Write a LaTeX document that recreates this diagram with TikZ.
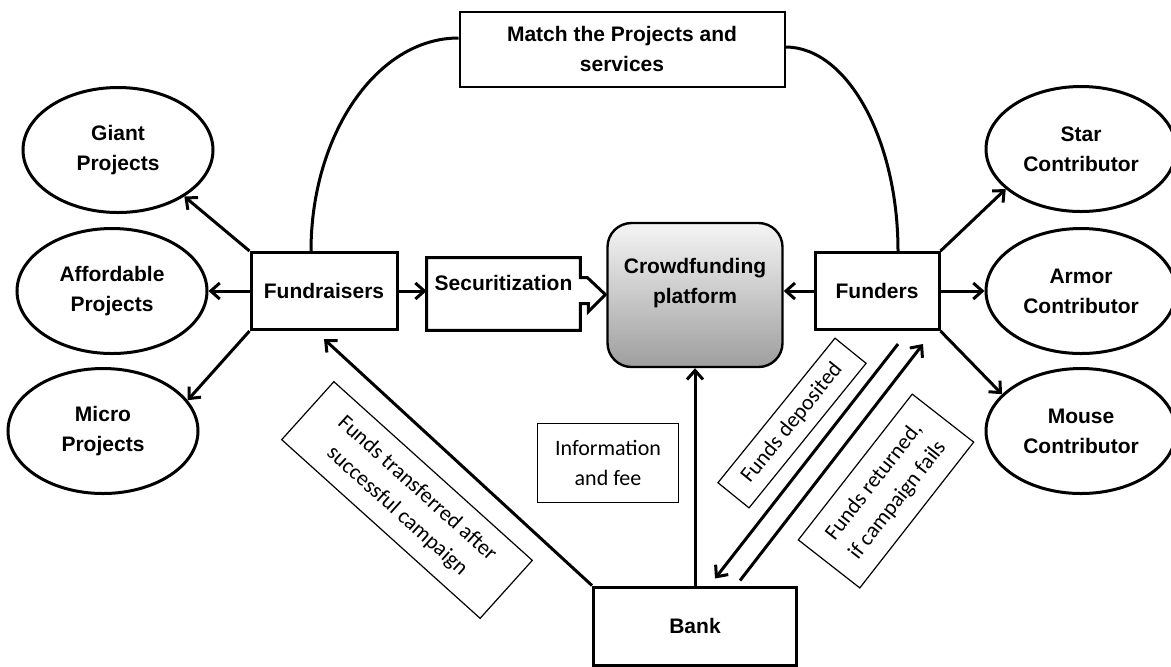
\documentclass[tikz,border=0pt]{standalone}
\usepackage{fontspec}
\setmainfont{Liberation Sans}
\newfontfamily\calibfont{Carlito}
\usetikzlibrary{shapes, arrows.meta, calc}

\begin{document}
\begin{tikzpicture}[
		x=0.5pt, y=-0.5pt,
		every node/.style={font=\fontsize{10.5}{15}\selectfont\bfseries, align=center},
		mainbox/.style={draw, line width=1.5pt, rectangle, minimum height=38.5pt, inner sep=0pt},
		projell/.style={draw, line width=1.5pt, ellipse, minimum width=95pt, minimum height=62.5pt, inner sep=0pt},
		notebox/.style={draw, line width=0.6pt, font=\fontsize{11}{15}\selectfont\calibfont, inner sep=0pt},
		flow/.style={line width=1.5pt, -{Straight Barb[length=4.5pt,width=8pt]}},
		link/.style={line width=1.5pt}
	]
	\useasboundingbox (0,0) rectangle (1171,666);

	\node[draw, line width=1pt, minimum width=162.5pt, minimum height=37.5pt, inner sep=0pt] (match) at (622,49) {Match the Projects and\\services};

	\node[projell] (giant) at (118,150) {Giant\\Projects};
	\node[projell] (afford) at (112,291) {Affordable\\Projects};
	\node[projell] (micro) at (103,431) {Micro\\Projects};

	\node[projell] (star) at (1081,149) {Star\\Contributor};
	\node[projell] (armor) at (1081,291) {Armor\\Contributor};
	\node[projell] (mouse) at (1081,431) {Mouse\\Contributor};

	\node[mainbox, minimum width=73pt] (fundr) at (324,291) {Fundraisers};
	\node[mainbox, minimum width=62pt] (funders) at (877,291) {Funders};
	\node[mainbox, minimum width=101.5pt, minimum height=39pt] (bank) at (695,626) {Bank};

	\node[minimum width=76.5pt, minimum height=36pt, inner sep=0pt] (secur) at (503.5,294) {};
	\node (securtxt) at ([yshift=5.5pt]secur.center) {Securitization};
	\draw[link] (secur.north west) -- (secur.north east) -- ++(0,20) -- ++(7,0) -- ++(18,17) -- ++(-17,17) -- ++(0,-8) -- ++(-8,0) -- (secur.south east) -- (secur.south west) -- cycle;

	\node[draw, line width=1.2pt, rounded corners=12pt, top color=black!4, bottom color=black!38, minimum width=87.5pt, minimum height=72pt, inner sep=0pt] (crowd) at (695,295) {};
	\node (crowdtxt) at ([yshift=6pt]crowd.center) {Crowdfunding\\platform};

	\node[notebox, minimum width=70.5pt, minimum height=39.5pt] (info) at (608,463) {Information\\and fee};
	\node[notebox, minimum width=133.5pt, minimum height=39pt, rotate=-42] (lbltrans) at (407,500) {Funds transferred after\\successful campaign};
	\node[notebox, minimum width=93pt, minimum height=20pt, rotate=51] (lbldep) at (792,423) {Funds deposited};
	\node[notebox, minimum width=92.5pt, minimum height=39pt, rotate=52] (lblret) at (886,491) {Funds returned,\\if campaign fails};

	\draw[link] ([xshift=-6.5pt]fundr.north) .. controls +(0,-116) and +(-82,0) .. ([yshift=5.5pt]match.west);
	\draw[link] ([yshift=1pt]match.east) .. controls +(62,0) and +(0,-111) .. ([xshift=10.5pt]funders.north);

	\draw[flow] (fundr.north west) -- (giant.325);
	\draw[flow] (fundr.west) -- (fundr.west -| afford.east);
	\draw[flow] (fundr.south west) -- (micro.20);
	\draw[flow] (fundr.east) -- (fundr.east -| secur.west);

	\draw[flow] (funders.west) -- (funders.west -| crowd.east);
	\draw[flow] (funders.north east) -- (star.208);
	\draw[flow] (funders.east) -- (funders.east -| armor.west);
	\draw[flow] (funders.south east) -- (mouse.155);

	\draw[flow] (bank.north) -- (crowd.south);
	\draw[flow] (bank.north west) -- ([yshift=-4pt]fundr.south);
	\draw[flow] ([xshift=10.5pt,yshift=-6.5pt]funders.south) -- ([xshift=10pt,yshift=3.5pt]bank.north);
	\draw[flow] ([xshift=22.5pt,yshift=2.5pt]bank.north) -- ([xshift=23pt,yshift=-6.5pt]funders.south);
\end{tikzpicture}
\end{document}
